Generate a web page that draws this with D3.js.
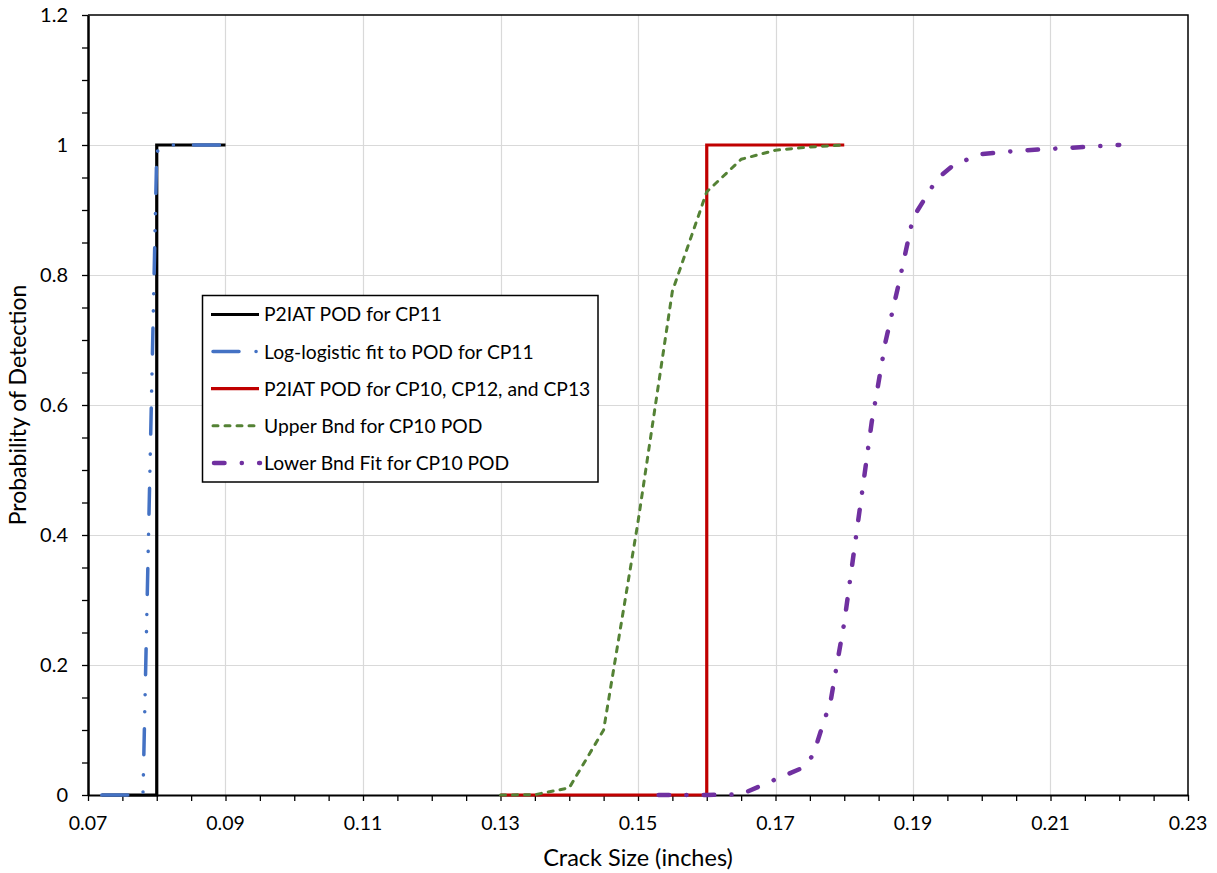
<!DOCTYPE html>
<html>
<head>
<meta charset="utf-8">
<script src="https://cdn.jsdelivr.net/npm/d3@7"></script>
<style>
  body { margin: 0; background: #fff; }
  svg { display: block; }
  text { font-family: Lato, "Open Sans", sans-serif; fill: #000; }
</style>
</head>
<body>
<svg id="chart" width="1217" height="873"></svg>
<script>
// Axis ticks and labels
const xTickValues = [0.07, 0.09, 0.11, 0.13, 0.15, 0.17, 0.19, 0.21, 0.23];
const xTickLabels = ["0.07", "0.09", "0.11", "0.13", "0.15", "0.17", "0.19", "0.21", "0.23"];
const yTickValues = [0, 0.2, 0.4, 0.6, 0.8, 1, 1.2];
const yTickLabels = ["0", "0.2", "0.4", "0.6", "0.8", "1", "1.2"];

// Series names
const seriesNames = [
  "P2IAT POD for CP11",
  "Log-logistic fit to POD for CP11",
  "P2IAT POD for CP10, CP12, and CP13",
  "Upper Bnd for CP10 POD",
  "Lower Bnd Fit for CP10 POD"
];

// P2IAT POD for CP11 (step)
const cp11Size = [0.072, 0.08, 0.08, 0.09];
const cp11Pod  = [0, 0, 1, 1];

// Log-logistic fit to POD for CP11
const fitSize = [0.072, 0.074, 0.076, 0.078, 0.080, 0.082, 0.084, 0.086, 0.088, 0.090];
const fitPod  = [0, 0, 0, 0.002, 0.99, 1, 1, 1, 1, 1];

// P2IAT POD for CP10, CP12, and CP13 (step)
const cp10Size = [0.13, 0.16, 0.16, 0.18];
const cp10Pod  = [0, 0, 1, 1];

// Upper bound for CP10 POD
const upperSize = [0.13, 0.135, 0.14, 0.145, 0.15, 0.155, 0.16, 0.165, 0.17, 0.175, 0.18];
const upperPod  = [0, 0.0005, 0.011, 0.1, 0.42, 0.775, 0.928, 0.978, 0.992, 0.997, 1];

// Lower bound fit for CP10 POD
const lowerSize = [0.153, 0.155, 0.16, 0.165, 0.17, 0.174, 0.1755, 0.177, 0.178, 0.179, 0.18,
                   0.182, 0.184, 0.186, 0.188, 0.19, 0.1935, 0.196, 0.2, 0.205, 0.21, 0.215, 0.22];
const lowerPod  = [0, 0, 0, 0.001, 0.024, 0.042, 0.062, 0.112, 0.143, 0.205, 0.265,
                   0.42, 0.574, 0.697, 0.79, 0.888, 0.948, 0.97, 0.986, 0.991, 0.994, 0.997, 1];

const W = 1217, H = 873;
const plot = { left: 88, right: 1188, top: 15, bottom: 795 };

const svg = d3.select("#chart");
svg.append("rect").attr("width", W).attr("height", H).attr("fill", "#fff");

const x = d3.scaleLinear().domain([0.07, 0.23]).range([plot.left, plot.right]);
const y = d3.scaleLinear().domain([0, 1.2]).range([plot.bottom, plot.top]);

// Gridlines
const grid = svg.append("g").attr("stroke", "#d9d9d9").attr("stroke-width", 1.2);
grid.selectAll("line.vx").data(xTickValues.slice(1, -1)).join("line")
  .attr("x1", d => Math.round(x(d)) + 0.5).attr("x2", d => Math.round(x(d)) + 0.5)
  .attr("y1", plot.top).attr("y2", plot.bottom);
grid.selectAll("line.hy").data(yTickValues.slice(1, -1)).join("line")
  .attr("y1", d => Math.round(y(d)) + 0.5).attr("y2", d => Math.round(y(d)) + 0.5)
  .attr("x1", plot.left).attr("x2", plot.right);

// Plot border (top and right)
svg.append("path")
  .attr("d", `M${plot.left},${plot.top}H${plot.right}V${plot.bottom}`)
  .attr("fill", "none").attr("stroke", "#000").attr("stroke-width", 1.5);

// Minor tick positions
const xMinor = d3.range(0, 33).map(i => 0.07 + i * 0.005);
const yMinor = d3.range(0, 25).map(i => i * 0.05);

// Y axis
const yAxis = svg.append("g").attr("transform", `translate(${plot.left},0)`)
  .call(d3.axisLeft(y).tickValues(yMinor).tickSize(6).tickSizeOuter(0).tickFormat(() => ""));
yAxis.select(".domain").attr("stroke-width", 2.5);
yAxis.selectAll(".tick line").attr("stroke-width", 1.3);
svg.append("g").selectAll("text").data(yTickValues).join("text")
  .attr("x", 68).attr("y", d => y(d)).attr("dy", "0.36em")
  .attr("text-anchor", "end").attr("font-size", 20)
  .text((d, i) => yTickLabels[i]);

// X axis
const xAxis = svg.append("g").attr("transform", `translate(0,${plot.bottom})`)
  .call(d3.axisBottom(x).tickValues(xMinor).tickSize(6).tickSizeOuter(0).tickFormat(() => ""));
xAxis.select(".domain").attr("stroke-width", 2);
xAxis.selectAll(".tick line").attr("stroke-width", 1.3);
svg.append("g").selectAll("text").data(xTickValues).join("text")
  .attr("x", d => x(d)).attr("y", 830)
  .attr("text-anchor", "middle").attr("font-size", 19.5)
  .text((d, i) => xTickLabels[i]);

// Axis titles
svg.append("text").attr("x", (plot.left + plot.right) / 2).attr("y", 866)
  .attr("text-anchor", "middle").attr("font-size", 23.5)
  .text("Crack Size (inches)");
svg.append("text").attr("transform", `translate(26,${(plot.top + plot.bottom) / 2}) rotate(-90)`)
  .attr("text-anchor", "middle").attr("font-size", 23)
  .text("Probability of Detection");

// Series styles
const styles = [
  { color: "#000000", width: 3.2, dash: null, cap: "butt", join: "miter" },
  { color: "#4472C4", width: 3.5, dash: "26 17 0.1 17 0.1 20", cap: "round", join: "round" },
  { color: "#C00000", width: 3.2, dash: null, cap: "butt", join: "miter" },
  { color: "#548235", width: 3, dash: "5 7", cap: "round", join: "round" },
  { color: "#7030A0", width: 4.5, dash: "10.5 17.25 0.1 17.25", cap: "round", join: "round" }
];

const series = [
  cp11Size.map((s, i) => [s, cp11Pod[i]]),
  fitSize.map((s, i) => [s, fitPod[i]]),
  cp10Size.map((s, i) => [s, cp10Pod[i]]),
  upperSize.map((s, i) => [s, upperPod[i]]),
  lowerSize.map((s, i) => [s, lowerPod[i]])
];

const line = d3.line().x(d => x(d[0])).y(d => y(d[1]));

svg.append("g").selectAll("path").data(series).join("path")
  .attr("d", line)
  .attr("fill", "none")
  .attr("stroke", (d, i) => styles[i].color)
  .attr("stroke-width", (d, i) => styles[i].width)
  .attr("stroke-dasharray", (d, i) => styles[i].dash)
  .attr("stroke-linecap", (d, i) => styles[i].cap)
  .attr("stroke-linejoin", (d, i) => styles[i].join);

// Legend
const legend = svg.append("g");
legend.append("rect")
  .attr("x", 202.5).attr("y", 295.5).attr("width", 395.5).attr("height", 186.5)
  .attr("fill", "#fff").attr("stroke", "#000").attr("stroke-width", 1.5);
const rowY = i => 314.5 + i * 37.1;
const sampleStart = [211, 213, 211, 213, 214];
const sampleEnd = [259, 259, 259, 259, 260];
const rows = legend.selectAll("g.row").data(seriesNames).join("g");
rows.append("line")
  .attr("x1", (d, i) => sampleStart[i]).attr("x2", (d, i) => sampleEnd[i])
  .attr("y1", (d, i) => rowY(i)).attr("y2", (d, i) => rowY(i))
  .attr("stroke", (d, i) => styles[i].color)
  .attr("stroke-width", (d, i) => styles[i].width)
  .attr("stroke-dasharray", (d, i) => styles[i].dash)
  .attr("stroke-linecap", (d, i) => styles[i].cap);
rows.append("text")
  .attr("x", 264).attr("y", (d, i) => rowY(i)).attr("dy", "0.36em")
  .attr("font-size", 19.3)
  .text(d => d);
</script>
</body>
</html>
